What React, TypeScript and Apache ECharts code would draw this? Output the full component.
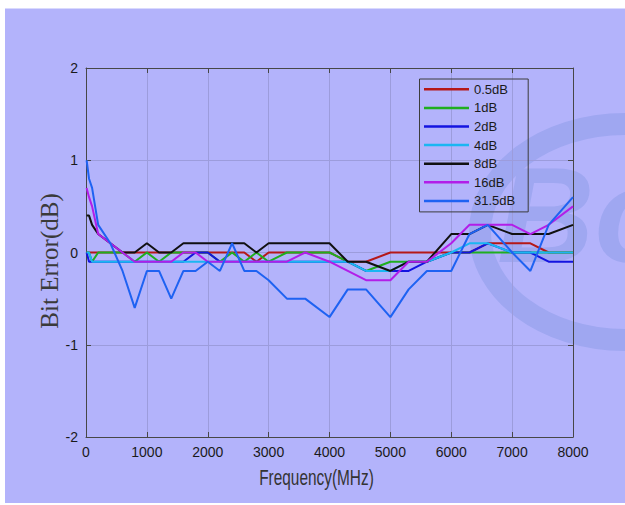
import React, { useEffect, useRef } from "react";
import * as echarts from "echarts";

const freqs = [10, 50, 100, 200, 400, 600, 800, 1000, 1200, 1400, 1600, 1800, 2000, 2200, 2400, 2600, 2800, 3000, 3300, 3600, 4000, 4300, 4600, 5000, 5300, 5600, 6000, 6300, 6600, 7000, 7300, 7600, 8000];

const s05 = [0, 0, 0, 0, 0, 0, 0, 0, 0, 0, 0, 0, 0, 0, 0, 0, -0.1, 0, 0, 0, 0, -0.1, -0.1, 0, 0, 0, 0, 0, 0.1, 0.1, 0.1, 0, 0];
const s1 = [0, 0, -0.1, 0, 0, 0, -0.1, 0, -0.1, 0, 0, 0, 0, -0.1, 0, -0.1, 0, -0.1, 0, 0, 0, -0.1, -0.2, -0.1, -0.1, -0.1, 0, 0, 0, 0, 0, 0, 0];
const s2 = [0, -0.1, -0.1, -0.1, -0.1, -0.1, -0.1, -0.1, -0.1, -0.1, -0.1, 0, 0, -0.1, -0.1, -0.1, -0.1, -0.1, -0.1, -0.1, -0.1, -0.1, -0.2, -0.2, -0.2, -0.1, 0, 0, 0.1, 0, 0, -0.1, -0.1];
const s4 = [0, 0, -0.1, -0.1, -0.1, -0.1, -0.1, -0.1, -0.1, -0.1, -0.1, -0.1, -0.1, -0.1, -0.1, -0.1, -0.1, -0.1, -0.1, -0.1, -0.1, -0.1, -0.2, -0.2, -0.1, -0.1, 0, 0.1, 0.1, 0, 0, 0, 0];
const s8 = [0.4, 0.4, 0.3, 0.2, 0.1, 0, 0, 0.1, 0, 0, 0.1, 0.1, 0.1, 0.1, 0.1, 0.1, 0, 0.1, 0.1, 0.1, 0.1, -0.1, -0.1, -0.2, -0.1, -0.1, 0.2, 0.2, 0.3, 0.2, 0.2, 0.2, 0.3];
const s16 = [0.7, 0.6, 0.5, 0.2, 0.1, 0, -0.1, -0.1, -0.1, -0.1, 0, 0, -0.1, -0.1, -0.1, -0.1, -0.1, -0.1, -0.1, 0, -0.1, -0.2, -0.3, -0.3, -0.1, -0.1, 0.1, 0.3, 0.3, 0.3, 0.2, 0.3, 0.5];
const s315 = [1.0, 0.8, 0.7, 0.3, 0.1, -0.2, -0.6, -0.2, -0.2, -0.5, -0.2, -0.2, -0.1, -0.2, 0.1, -0.2, -0.2, -0.3, -0.5, -0.5, -0.7, -0.4, -0.4, -0.7, -0.4, -0.2, -0.2, 0.2, 0.3, 0.0, -0.2, 0.3, 0.6];

const seriesNames = ["0.5dB", "1dB", "2dB", "4dB", "8dB", "16dB", "31.5dB"];
const seriesValues = [s05, s1, s2, s4, s8, s16, s315];
const seriesColors = ["#b51818", "#1fae1f", "#1414e0", "#1ab6f2", "#111111", "#b21ee8", "#1e62f2"];

const xTicks = { min: 0, max: 8000, interval: 1000 };
const yTicks = { min: -2, max: 2, interval: 1 };

const BG = "#b3b3fb";
const WM = "#9fa7f1";
const AXIS = "#474747";

export default function App() {
  const ref = useRef<HTMLDivElement>(null);
  useEffect(() => {
    document.body.style.margin = "0";
    if (!ref.current) return;
    const chart = echarts.init(ref.current, null, { renderer: "svg" });
    const labelFont = "'Liberation Sans', Arial, sans-serif";
    const axisCommon = {
      type: "value" as const,
      axisLine: { show: true, onZero: false, lineStyle: { color: AXIS, width: 1 } },
      axisTick: { show: true, inside: true, length: 5, lineStyle: { color: AXIS } },
    };
    const plain = (v: number) => String(v);
    chart.setOption({
      animation: false,
      backgroundColor: "#ffffff",
      grid: { left: 86, right: 52, top: 68, bottom: 68, show: false },
      xAxis: [
        {
          ...axisCommon,
          ...xTicks,
          position: "bottom",
          axisLabel: { fontSize: 14, color: "#1a1a1a", margin: 8, fontFamily: labelFont, formatter: plain },
          splitLine: { show: true, lineStyle: { color: "#9c9cdc", width: 1 } },
        },
        {
          ...axisCommon,
          ...xTicks,
          position: "top",
          axisLabel: { show: false },
          splitLine: { show: false },
        },
      ],
      yAxis: [
        {
          ...axisCommon,
          ...yTicks,
          position: "left",
          axisLabel: { fontSize: 14, color: "#1a1a1a", margin: 8, fontFamily: labelFont, formatter: plain },
          splitLine: { show: true, lineStyle: { color: "#9c9cdc", width: 1 } },
        },
        {
          ...axisCommon,
          ...yTicks,
          position: "right",
          axisLabel: { show: false },
          splitLine: { show: false },
        },
      ],
      legend: {
        orient: "vertical",
        left: 419.5,
        top: 79,
        icon: "rect",
        itemWidth: 45,
        itemHeight: 2.5,
        itemGap: 4.6,
        padding: [3.3, 13, 4, 4.5],
        borderColor: "#3c3c3c",
        borderWidth: 1,
        backgroundColor: "transparent",
        textStyle: { fontSize: 13, color: "#1a1a1a", fontFamily: labelFont, lineHeight: 14 },
        data: seriesNames,
      },
      graphic: [
        {
          type: "rect",
          silent: true,
          z: -100,
          shape: { x: 5, y: 8.5, width: 620, height: 494.5 },
          style: { fill: BG },
        },
        {
          type: "ellipse",
          silent: true,
          z: -90,
          shape: { cx: 625, cy: 232, rx: 145, ry: 108 },
          style: { fill: "none", stroke: WM, lineWidth: 22 },
        },
        {
          type: "text",
          silent: true,
          z: -90,
          x: 497,
          y: 148,
          style: { text: "Bo", font: "italic bold 135px 'Liberation Sans', Arial", fill: WM, verticalAlign: "top" },
        },
        {
          type: "text",
          silent: true,
          x: 316.5,
          y: 477,
          scaleX: 0.7,
          style: {
            text: "Frequency(MHz)",
            font: "22px 'Liberation Sans', Arial",
            fill: "#333333",
            align: "center",
            verticalAlign: "middle",
          },
        },
        {
          type: "text",
          silent: true,
          x: 49,
          y: 261,
          rotation: Math.PI / 2,
          style: {
            text: "Bit Error(dB)",
            font: "25px 'Liberation Serif', 'Times New Roman', serif",
            fill: "#3a3a3a",
            align: "center",
            verticalAlign: "middle",
          },
        },
      ],
      series: seriesNames.map((name, k) => ({
        name,
        type: "line",
        xAxisIndex: 0,
        yAxisIndex: 0,
        symbol: "none",
        color: seriesColors[k],
        lineStyle: { width: 2, color: seriesColors[k] },
        data: freqs.map((f, i) => [f, seriesValues[k][i]]),
      })),
    });
    return () => chart.dispose();
  }, []);
  return <div ref={ref} style={{ width: 625, height: 505 }} />;
}
